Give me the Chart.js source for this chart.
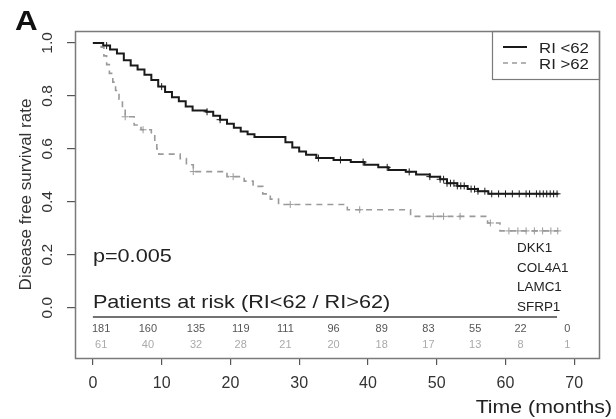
<!DOCTYPE html>
<html>
<head>
<meta charset="utf-8">
<script src="https://cdn.jsdelivr.net/npm/chart.js@4.4.1/dist/chart.umd.min.js"></script>
<style>
  html, body { margin: 0; padding: 0; background: #fff; }
</style>
</head>
<body>
<canvas id="kmChart" width="616" height="419"></canvas>
<script>
// ------------------- DATOS -------------------

// Curva RI <62 (línea continua): tiempo del evento y supervivencia tras el evento
const tiemposBajo = [0, 1.5, 2.5, 3.5, 4.5, 5.5, 6.5, 7.5, 8.5, 9.5, 10.5, 11.5, 12.5, 13.5, 14.5,
    16.5, 17.5, 18.5, 19.5, 20.5, 21.5, 22.5, 23.5, 28, 29, 30, 31, 32.5, 35, 37.5, 39.5,
    41.5, 43, 45.5, 47, 49, 50.5, 51.5, 53, 54.5, 56, 57.5, 67.7];
const supervBajo = [1.0, 0.99, 0.975, 0.96, 0.935, 0.915, 0.9, 0.88, 0.86, 0.835, 0.815, 0.795, 0.78, 0.76, 0.745,
    0.74, 0.725, 0.71, 0.695, 0.68, 0.665, 0.655, 0.645, 0.625, 0.605, 0.59, 0.578, 0.565, 0.558, 0.55, 0.54,
    0.53, 0.52, 0.513, 0.503, 0.495, 0.485, 0.47, 0.46, 0.448, 0.44, 0.43, 0.43];
const censuraBajo = [2, 10, 16.6, 18.5, 32.8, 36, 39.3, 42.8, 46, 49, 50.5, 51, 51.5, 52, 52.5, 53, 53.5,
    54, 55, 55.5, 56, 57, 58, 59, 60, 61, 62, 63, 63.5, 64.5, 65, 65.5, 66, 66.5, 67, 67.5];

// Curva RI >62 (línea discontinua)
const tiemposAlto = [0, 1.2, 1.6, 2.0, 2.4, 2.9, 3.3, 3.8, 4.3, 4.7, 6, 7, 8.5, 9, 9.3, 9.6,
    12.7, 13.6, 14.6, 19.5, 22, 23.3, 24.7, 25.8, 27, 37, 46.2, 57.4, 59.2, 67.7];
const supervAlto = [1.0, 0.984, 0.951, 0.918, 0.885, 0.852, 0.82, 0.787, 0.754, 0.721, 0.69, 0.672, 0.655, 0.62, 0.6, 0.58,
    0.563, 0.54, 0.514, 0.495, 0.478, 0.458, 0.43, 0.41, 0.39, 0.37, 0.345, 0.32, 0.29, 0.29];
const censuraAlto = [4.7, 7.3, 14.6, 20.4, 28.7, 38.8, 49.5, 51, 53.4, 57.8, 60.5, 61.8, 63, 64.2, 65.4, 66.6, 67.6];

// Pacientes en riesgo
const riesgoTiempos = [1.2, 8, 15, 21.5, 28, 35, 42, 48.8, 55.6, 62.2, 69];
const riesgoBajo = [181, 160, 135, 119, 111, 96, 89, 83, 55, 22, 0];
const riesgoAlto = [61, 40, 32, 28, 21, 20, 18, 17, 13, 8, 1];

const genes = ['DKK1', 'COL4A1', 'LAMC1', 'SFRP1'];
const etiquetasX = [0, 10, 20, 30, 40, 50, 60, 70];
const etiquetasY = [0.0, 0.2, 0.4, 0.6, 0.8, 1.0];

// ------------------- FUNCIONES -------------------

const FUENTE = "'Liberation Sans', Arial, sans-serif";

// Valor de la curva escalonada en un tiempo dado
function valorEn(tiempos, valores, t) {
    let v = valores[0];
    for (let i = 0; i < tiempos.length; i++) {
        if (tiempos[i] <= t) v = valores[i];
    }
    return v;
}

function puntos(tiempos, valores) {
    return tiempos.map((t, i) => ({ x: t, y: valores[i] }));
}

function texto(ctx, str, x, y, o) {
    ctx.save();
    ctx.font = o.font;
    ctx.fillStyle = o.color || '#222';
    ctx.textAlign = o.align || 'left';
    ctx.textBaseline = o.baseline || 'alphabetic';
    ctx.translate(x, y);
    if (o.rot) ctx.rotate(o.rot);
    ctx.scale(o.sx || 1, 1);
    ctx.fillText(str, 0, 0);
    ctx.restore();
}

// Decoraciones estilo R: marco, textos, tabla de riesgo, leyenda
const decoracionR = {
    id: 'decoracionR',
    afterDraw(chart) {
        const { ctx, chartArea: a, scales: { x, y } } = chart;

        ctx.save();
        ctx.strokeStyle = '#7a7a7a';
        ctx.lineWidth = 1.5;
        ctx.strokeRect(a.left + 0.5, a.top + 0.5, a.right - a.left, a.bottom - a.top);
        ctx.restore();

        // etiquetas eje Y giradas
        etiquetasY.forEach(v => {
            texto(ctx, v.toFixed(1), 48, y.getPixelForValue(v), {
                font: `15.5px ${FUENTE}`, color: '#333', align: 'center', baseline: 'middle', rot: -Math.PI / 2
            });
        });
        texto(ctx, 'Disease free survival rate', 26, (a.top + a.bottom) / 2, {
            font: `17px ${FUENTE}`, color: '#333', align: 'center', baseline: 'middle', rot: -Math.PI / 2
        });
        texto(ctx, 'Time (months)', 612, 413, { font: `19px ${FUENTE}`, color: '#222', align: 'right', sx: 1.12 });
        texto(ctx, 'A', 15, 30, { font: `bold 28px ${FUENTE}`, color: '#111', sx: 1.12 });

        texto(ctx, 'p=0.005', x.getPixelForValue(0), 262, { font: `19px ${FUENTE}`, color: '#222', sx: 1.14 });
        texto(ctx, 'Patients at risk (RI<62 / RI>62)', x.getPixelForValue(0), 308, {
            font: `19px ${FUENTE}`, color: '#222', sx: 1.14
        });

        genes.forEach((g, i) => {
            texto(ctx, g, 517, 252 + i * 19.6, { font: `12px ${FUENTE}`, color: '#222', sx: 1.12 });
        });

        ctx.save();
        ctx.strokeStyle = '#444';
        ctx.lineWidth = 1.5;
        ctx.beginPath();
        ctx.moveTo(x.getPixelForValue(0), 317);
        ctx.lineTo(x.getPixelForValue(67.5), 317);
        ctx.stroke();
        ctx.restore();

        riesgoTiempos.forEach((t, i) => {
            const px = x.getPixelForValue(t);
            texto(ctx, String(riesgoBajo[i]), px, 329, {
                font: `10px ${FUENTE}`, color: '#555', align: 'center', baseline: 'middle', sx: 1.1
            });
            texto(ctx, String(riesgoAlto[i]), px, 345, {
                font: `10px ${FUENTE}`, color: '#aaa', align: 'center', baseline: 'middle', sx: 1.1
            });
        });

        // leyenda
        ctx.save();
        ctx.strokeStyle = '#7a7a7a';
        ctx.lineWidth = 1.2;
        ctx.strokeRect(492.5, a.top + 0.5, a.right - 492, 48);
        ctx.strokeStyle = '#1a1a1a';
        ctx.lineWidth = 2;
        ctx.beginPath(); ctx.moveTo(503, 47); ctx.lineTo(527, 47); ctx.stroke();
        ctx.strokeStyle = '#9a9a9a';
        ctx.lineWidth = 1.5;
        ctx.setLineDash([5, 4]);
        ctx.beginPath(); ctx.moveTo(503, 63); ctx.lineTo(527, 63); ctx.stroke();
        ctx.restore();
        texto(ctx, 'RI <62', 539, 53, { font: `15px ${FUENTE}`, color: '#222', sx: 1.12 });
        texto(ctx, 'RI >62', 539, 69, { font: `15px ${FUENTE}`, color: '#222', sx: 1.12 });
    }
};

// ------------------- GRÁFICO -------------------

const ctx = document.getElementById('kmChart').getContext('2d');

new Chart(ctx, {
    type: 'line',
    data: {
        datasets: [
            {
                label: 'RI <62',
                data: puntos(tiemposBajo, supervBajo),
                borderColor: '#1a1a1a',
                borderWidth: 2,
                stepped: true,
                pointRadius: 0
            },
            {
                label: 'RI >62',
                data: puntos(tiemposAlto, supervAlto),
                borderColor: '#9a9a9a',
                borderWidth: 1.6,
                borderDash: [6, 5],
                stepped: true,
                pointRadius: 0
            },
            {
                type: 'scatter',
                label: 'censura bajo',
                data: censuraBajo.map(t => ({ x: t, y: valorEn(tiemposBajo, supervBajo, t) })),
                pointStyle: 'cross',
                pointRadius: 3.5,
                borderColor: '#1a1a1a',
                borderWidth: 1
            },
            {
                type: 'scatter',
                label: 'censura alto',
                data: censuraAlto.map(t => ({ x: t, y: valorEn(tiemposAlto, supervAlto, t) })),
                pointStyle: 'cross',
                pointRadius: 3.5,
                borderColor: '#9a9a9a',
                borderWidth: 1
            }
        ]
    },
    options: {
        responsive: false,
        animation: false,
        layout: { padding: { top: 31, right: 17, left: 0, bottom: 0 } },
        plugins: { legend: { display: false }, tooltip: { enabled: false } },
        scales: {
            x: {
                type: 'linear',
                min: -2.6,
                max: 73.6,
                afterBuildTicks: s => { s.ticks = etiquetasX.map(v => ({ value: v })); },
                afterFit: s => { s.height = 61; },
                grid: { drawOnChartArea: false, drawTicks: true, tickLength: 7, color: '#555', lineWidth: 1.2 },
                border: { display: false },
                ticks: { color: '#333', font: { family: FUENTE, size: 16 }, padding: 9, maxRotation: 0 }
            },
            y: {
                type: 'linear',
                min: -0.19,
                max: 1.045,
                afterBuildTicks: s => { s.ticks = etiquetasY.map(v => ({ value: v })); },
                afterFit: s => { s.width = 75; },
                grid: { drawOnChartArea: false, drawTicks: true, tickLength: 8, color: '#555', lineWidth: 1.2 },
                border: { display: false },
                ticks: { display: false }
            }
        }
    },
    plugins: [decoracionR]
});
</script>
</body>
</html>
